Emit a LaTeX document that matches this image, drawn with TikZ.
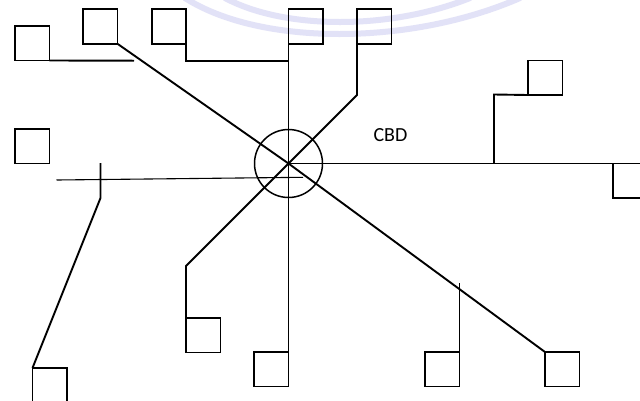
\documentclass[tikz,border=0pt]{standalone}
\usepackage{fontspec}
\setmainfont{Carlito}
\definecolor{haze}{RGB}{226,226,247}
\begin{document}
\begin{tikzpicture}[x=1pt,y=-1pt,
  box/.style={draw,line width=1.9pt,minimum width=34.5pt,minimum height=34.5pt,inner sep=0pt,outer sep=0pt},
  road/.style={line width=1.9pt,line join=miter},
  thinroad/.style={line width=1.1pt},
  faint/.style={draw=haze,line width=6pt,line cap=round}]
\useasboundingbox (0,0) rectangle (640,400);
\clip (0,0) rectangle (640,400);
\fill[white] (0,0) rectangle (640,400);

% faint background bands
\draw[faint] (185,-2) .. controls (260,46) and (410,46) .. (520,-2);
\draw[faint] (225,-2) .. controls (285,30) and (390,30) .. (470,-2);

% central business district
\coordinate (c) at (288.5,163.5);
\node[draw,circle,line width=1.5pt,minimum size=68pt,inner sep=0pt] (hub) at (c) {};
\node[font=\fontsize{20}{24}\selectfont] (cbd) at (390.5,135.5) {CBD};

% plots
\node[box,anchor=north west] (bA) at (15,26) {};
\node[box,anchor=north west] (bB) at (83,9.3) {};
\node[box,anchor=north west] (bC) at (151.7,9.3) {};
\node[box,anchor=north west] (bD) at (288.5,9.3) {};
\node[box,anchor=north west] (bE) at (357,9.3) {};
\node[box,anchor=north west] (bF) at (528,60.5) {};
\node[box,anchor=north west] (bG) at (613,163.5) {};
\node[box,anchor=north west] (bI) at (15,129) {};
\node[box,anchor=north west] (bH) at (32.5,368) {};
\node[box,anchor=north west] (bJ) at (186,318) {};
\node[box,anchor=north east] (bK) at (288.5,352) {};
\node[box,anchor=north east] (bM) at (459.5,352) {};
\node[box,anchor=north west] (bL) at (545,352) {};

% junctions and free ends
\coordinate (aEnd) at (134,60.7);
\coordinate (cKnee) at (bC.south east |- 0,60.7);
\coordinate (cJoin) at (288.5,60.7);
\coordinate (eKnee) at (357,95);
\coordinate (jKnee) at (186,266);
\coordinate (eastEnd) at (640,163.5);
\coordinate (thickA) at (357,163.5);
\coordinate (thickB) at (460,163.5);
\coordinate (fFoot) at (494,163.5);
\coordinate (fKnee) at (494,94.5);
\coordinate (wA) at (56.5,180);
\coordinate (wB) at (303,177.3);
\coordinate (hTop) at (100.5,163);
\coordinate (hKnee) at (100.5,198);
\coordinate (mTop) at (459.5,283);

% roads
\draw[road] (bA.south east) -- (aEnd);
\draw[road] (bB.south east) -- (c) -- (bL.north west);
\draw[road] (bC.south east) -- (cKnee) -- (cJoin);
\draw[road] (bD.south west) -- (bK.north east);
\draw[road] (bE.south west) -- (eKnee) -- (c) -- (jKnee) -- (bJ.north west);
\draw[thinroad] (c) -- (eastEnd);
\draw[road] (thickA) -- (thickB);
\draw[road] (fFoot) -- (fKnee) -- (bF.south west);
\draw[thinroad] (wA) -- (wB);
\draw[road] (hTop) -- (hKnee) -- (bH.north west);
\draw[road] (mTop) -- (bM.north east);
\end{tikzpicture}
\end{document}
